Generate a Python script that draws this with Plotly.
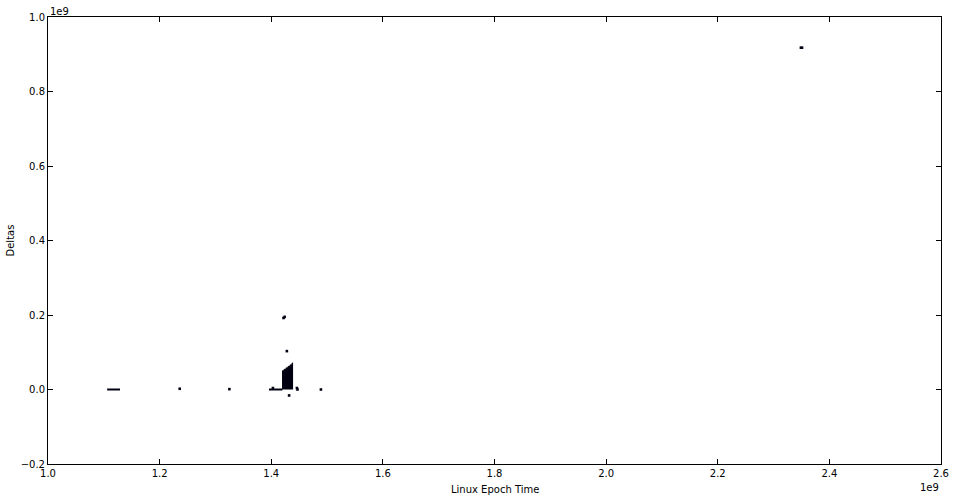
import plotly.graph_objects as go

# Scattered individual observations (epoch time, delta)
pt_x = [1.236e9, 1.325e9, 1.403e9, 1.422e9, 1.424e9, 1.428e9, 1.432e9, 1.446e9, 1.447e9, 1.489e9, 2.349e9, 2.351e9]
pt_y = [0.002e9, 0.001e9, 0.004e9, 0.192e9, 0.195e9, 0.103e9, -0.016e9, 0.004e9, 0.0, 0.0, 0.9175e9, 0.9175e9]

# Dense runs of points along zero
run1_x = [1.106e9, 1.129e9]
run1_y = [0.0, 0.0]
run2_x = [1.396e9, 1.420e9]
run2_y = [0.0, 0.0]

# Dense block of points: upper envelope (stepped)
block_x = [1.4193e9, 1.4229e9, 1.4265e9, 1.4301e9, 1.4337e9, 1.4373e9, 1.4391e9]
block_top = [0.050e9, 0.054e9, 0.058e9, 0.062e9, 0.066e9, 0.071e9, 0.071e9]

x_ticks = [1.0e9, 1.2e9, 1.4e9, 1.6e9, 1.8e9, 2.0e9, 2.2e9, 2.4e9, 2.6e9]
x_labels = ["1.0", "1.2", "1.4", "1.6", "1.8", "2.0", "2.2", "2.4", "2.6"]
y_ticks = [-0.2e9, 0.0, 0.2e9, 0.4e9, 0.6e9, 0.8e9, 1.0e9]
y_labels = ["\u22120.2", "0.0", "0.2", "0.4", "0.6", "0.8", "1.0"]

ink = "#000010"
fig = go.Figure()
fig.add_trace(go.Scatter(x=block_x, y=block_top, mode="lines", line=dict(shape="hv", color=ink, width=1),
                         fill="tozeroy", fillcolor=ink, hoverinfo="skip"))
for rx, ry in [(run1_x, run1_y), (run2_x, run2_y)]:
    fig.add_trace(go.Scatter(x=rx, y=ry, mode="lines", line=dict(color=ink, width=2)))
fig.add_trace(go.Scatter(x=pt_x, y=pt_y, mode="markers",
                         marker=dict(symbol="square", size=2.6, color=ink, line=dict(width=0))))

font = dict(family="DejaVu Sans", size=10, color="black")
axis_common = dict(showgrid=False, zeroline=False, showline=True, linecolor="black", linewidth=1,
                   mirror="ticks", ticks="inside", ticklen=5, tickcolor="black", tickfont=font,
                   automargin=False)
fig.update_layout(
    width=955, height=500, showlegend=False,
    margin=dict(l=48, r=14, t=17, b=36),
    paper_bgcolor="white", plot_bgcolor="white", font=font,
    xaxis=dict(range=[1.0e9, 2.6e9], tickvals=x_ticks, ticktext=x_labels, **axis_common),
    yaxis=dict(range=[-0.2e9, 1.0e9], tickvals=y_ticks, ticktext=y_labels, **axis_common),
    annotations=[
        dict(text="1e9", xref="paper", yref="paper", x=0, y=1, xanchor="left", yanchor="middle",
             showarrow=False, font=font, yshift=6),
        dict(text="1e9", xref="paper", yref="paper", x=1, y=0, xanchor="right", yanchor="middle",
             showarrow=False, font=font, yshift=-23),
        dict(text="Linux Epoch Time", xref="paper", yref="paper", x=0.5, y=0, xanchor="center",
             yanchor="middle", showarrow=False, font=font, yshift=-25),
        dict(text="Deltas", xref="paper", yref="paper", x=0, y=0.5, xanchor="center",
             yanchor="middle", showarrow=False, font=font, textangle=-90, xshift=-38),
    ],
)
fig.write_html("out.html", config={"displayModeBar": False},
               post_script="document.body.style.margin='0';document.body.style.overflow='hidden';")
